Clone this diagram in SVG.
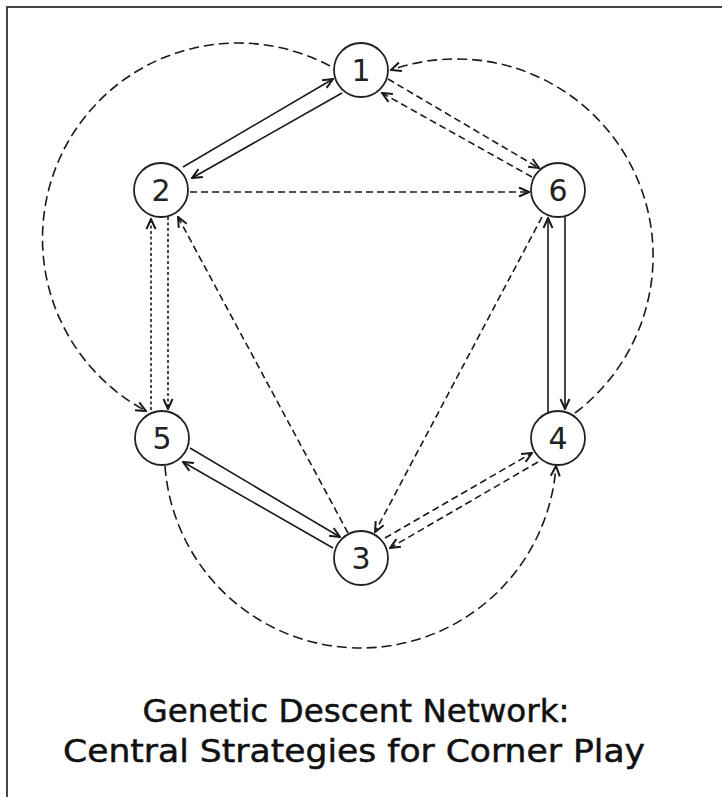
<svg xmlns="http://www.w3.org/2000/svg" width="722" height="797" viewBox="0 0 722 797">
<style>
.node circle{fill:#fff;stroke:#222;stroke-width:1.8}
.node text{font-family:"DejaVu Sans",sans-serif;font-size:30px;fill:#222;text-anchor:middle}
.c{fill:none;stroke:#1a1a1a;stroke-width:1.6;marker-end:url(#ah)}
.dash{stroke-dasharray:7 4}
.arc{stroke-dasharray:10 5}
.dot{stroke-dasharray:3 2.5}
.title{font-family:"DejaVu Sans",sans-serif;font-size:32px;fill:#111;stroke:#111;stroke-width:0.5;text-anchor:middle}
</style>
<defs>
<marker id="ah" viewBox="0 0 12 12" refX="11" refY="6" markerWidth="12" markerHeight="12" markerUnits="userSpaceOnUse" orient="auto">
<path d="M1,1.5 L11,6 L1,10.5" fill="none" stroke="#1a1a1a" stroke-width="2"/>
</marker>
</defs>
<rect width="722" height="797" fill="#fff"/>
<g id="frame" stroke="#444" stroke-width="2">
<line x1="6" y1="7" x2="722" y2="7"/>
<line x1="7" y1="6" x2="7" y2="797"/>
</g>
<g id="connectors">
<path class="c arc" d="M330,66 A195,195 0 0 0 146,411"/>
<path class="c arc" d="M575,413 A197,197 0 0 0 391,70"/>
<path class="c arc" d="M165,466 A196,196 0 0 0 556,466"/>
<path class="c" d="M183,167 L333,79"/>
<path class="c" d="M342,93 L192,178"/>
<path class="c dash" d="M190,192 L529,192"/>
<path class="c dash" d="M388,79 L539,168"/>
<path class="c dash" d="M532,177 L382,93"/>
<path class="c" d="M548,412 L548,218"/>
<path class="c" d="M565,217 L565,409"/>
<path class="c dash" d="M542,217 L375,532"/>
<path class="c dot" d="M151,410 L151,219"/>
<path class="c dot" d="M168,217 L168,409"/>
<path class="c dash" d="M348,533 L178,217"/>
<path class="c" d="M190,448 L340,537"/>
<path class="c" d="M333,548 L183,462"/>
<path class="c dash" d="M385,538 L532,453"/>
<path class="c dash" d="M538,462 L390,548"/>
</g>
<g id="node1" class="node"><circle cx="361" cy="70" r="27"/><text x="361" y="81">1</text></g>
<g id="node2" class="node"><circle cx="161" cy="190" r="27"/><text x="161" y="201">2</text></g>
<g id="node6" class="node"><circle cx="558" cy="190" r="27"/><text x="558" y="201">6</text></g>
<g id="node5" class="node"><circle cx="162" cy="438" r="27"/><text x="162" y="449">5</text></g>
<g id="node4" class="node"><circle cx="558" cy="438" r="27"/><text x="558" y="449">4</text></g>
<g id="node3" class="node"><circle cx="361" cy="558" r="27"/><text x="361" y="569">3</text></g>
<g id="title">
<text class="title" x="356" y="722" textLength="427" lengthAdjust="spacingAndGlyphs">Genetic Descent Network:</text>
<text class="title" x="354" y="762" textLength="582" lengthAdjust="spacingAndGlyphs">Central Strategies for Corner Play</text>
</g>
</svg>
